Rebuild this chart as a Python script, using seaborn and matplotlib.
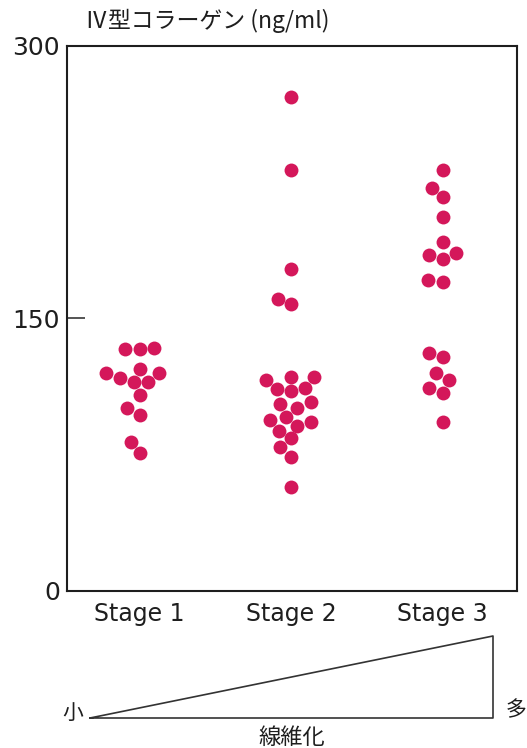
import matplotlib
matplotlib.use('Agg')
import matplotlib.pyplot as plt
import numpy as np
import pandas as pd
import seaborn as sns

# values (ng/ml)
stages = ['Stage 1', 'Stage 2', 'Stage 3']
stage1 = [133, 134, 133, 122, 120, 120, 117, 115, 115, 108, 101, 97, 82, 76]
stage2 = [272, 232, 177, 161, 158, 118, 116, 118, 111, 110, 112, 104, 101, 103,
          96, 93, 94, 91, 88, 84, 79, 74, 57]
stage3 = [232, 222, 217, 206, 192, 183, 185, 186, 170, 171, 131, 129, 120, 116,
          112, 109, 93]
y_ticks = [0, 150, 300]
y_title = 'Ⅳ型コラーゲン (ng/ml)'
grad_low, grad_high, grad_label = '小', '多', '線維化'

dot_color = '#d4175a'
ink = '#1e1e1e'

df = pd.DataFrame({
    'stage': [stages[0]] * len(stage1) + [stages[1]] * len(stage2) + [stages[2]] * len(stage3),
    'value': stage1 + stage2 + stage3,
})

sns.set_style('white')
plt.rcParams['font.family'] = ['DejaVu Sans', 'Noto Sans CJK JP']
cjk = ['Noto Sans CJK JP', 'DejaVu Sans']

fig = plt.figure(figsize=(5.27, 7.48), dpi=100)
ax = fig.add_axes([67 / 527, 1 - 591 / 748, 450 / 527, 545 / 748])

sns.swarmplot(data=df, x='stage', y='value', order=stages, color=dot_color,
              size=10, linewidth=0, ax=ax)

ax.set_xlim(-0.48, 2.49)
ax.set_ylim(0, 300)
ax.set_yticks(y_ticks)
ax.set_yticklabels([str(t) for t in y_ticks], fontsize=18, color=ink)
ax.tick_params(axis='y', direction='in', length=13, width=1.1, pad=5, left=True)
ax.tick_params(axis='x', length=0, pad=8, labelsize=17, labelcolor=ink)
ax.set_xlabel('')
ax.set_ylabel('')
for s in ax.spines.values():
    s.set_visible(True)
    s.set_color(ink)
    s.set_linewidth(1.5)

fig.text(85 / 527, 1 - 21 / 748, y_title, fontsize=16.5, color=ink,
         ha='left', va='center', family=cjk)

# wedge showing degree of fibrosis
tri = fig.add_axes([90 / 527, 1 - 718 / 748, 403 / 527, 82 / 748])
tri.plot([0, 1, 1, 0], [0, 1, 0, 0], color='#333333', lw=1.2, clip_on=False)
tri.set_xlim(0, 1)
tri.set_ylim(0, 1)
tri.axis('off')
fig.text(73 / 527, 1 - 713 / 748, grad_low, fontsize=15, ha='center', va='center',
         color=ink, family=cjk)
fig.text(516 / 527, 1 - 710 / 748, grad_high, fontsize=15, ha='center', va='center',
         color=ink, family=cjk)
fig.text(292 / 527, 1 - 737 / 748, grad_label, fontsize=16, ha='center', va='center',
         color=ink, family=cjk)

fig.savefig('out.png', dpi=100)
